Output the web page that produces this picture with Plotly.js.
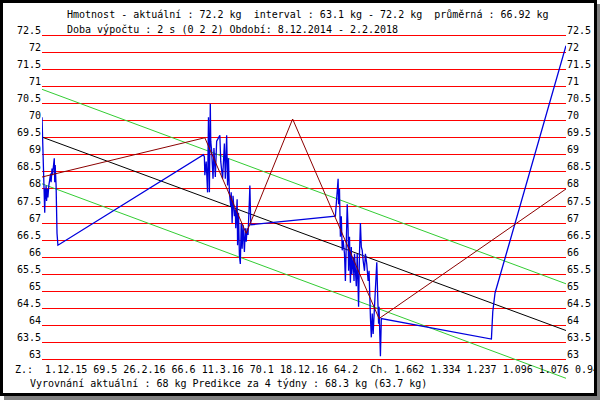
<!DOCTYPE html>
<html>
<head>
<meta charset="utf-8">
<script src="https://cdn.plot.ly/plotly-3.0.1.min.js"></script>
<style>
html,body{margin:0;padding:0;background:#fff;overflow:hidden;}
#wrap{position:relative;width:600px;height:400px;}
#chart{position:absolute;left:0;top:0;width:600px;height:400px;}
#frame{position:absolute;left:0;top:0;width:597px;height:396px;box-sizing:border-box;border:3px solid #000;box-shadow:4px 4px 0 #808080;pointer-events:none;}
</style>
</head>
<body>
<div id="wrap"><div id="chart"></div><div id="frame"></div></div>
<script>
// Weight measurements (date, kg)
const weightDates = [
 '2014-12-08','2014-12-10','2014-12-12','2014-12-14','2014-12-15','2014-12-16','2014-12-17','2014-12-18',
 '2014-12-20','2014-12-21','2014-12-23','2014-12-25','2014-12-27','2014-12-28','2014-12-30','2014-12-31',
 '2015-01-02','2015-01-04','2015-01-05','2015-01-06','2015-01-08','2015-01-09','2015-01-10','2015-01-12',
 '2015-11-28','2015-11-30','2015-12-01','2015-12-04','2015-12-07','2015-12-09','2015-12-11','2015-12-13',
 '2015-12-14','2015-12-16','2015-12-19','2015-12-21','2015-12-24','2015-12-27','2015-12-31','2016-01-03',
 '2016-01-05','2016-01-09','2016-01-13','2016-01-15','2016-01-18','2016-01-20','2016-01-22','2016-01-24',
 '2016-01-27','2016-01-28','2016-01-30','2016-02-01','2016-02-04','2016-02-06','2016-02-07','2016-02-10',
 '2016-02-11','2016-02-13','2016-02-15','2016-02-17','2016-02-19','2016-02-21','2016-02-23','2016-02-26',
 '2016-02-28','2016-03-01','2016-03-03','2016-03-05','2016-03-08','2016-03-09','2016-03-11','2016-06-27',
 '2016-09-13','2016-09-19','2016-09-20','2016-09-22','2016-09-24','2016-09-26','2016-09-28','2016-09-30',
 '2016-10-03','2016-10-05','2016-10-07','2016-10-09','2016-10-11','2016-10-12','2016-10-14','2016-10-16',
 '2016-10-18','2016-10-19','2016-10-22','2016-10-24','2016-10-25','2016-10-29','2016-10-31','2016-11-02',
 '2016-11-03','2016-11-05','2016-11-07','2016-11-09','2016-11-11','2016-11-13','2016-11-16','2016-11-18',
 '2016-11-21','2016-11-24','2016-11-26','2016-11-29','2016-12-01','2016-12-03','2016-12-05','2016-12-08',
 '2016-12-10','2016-12-13','2016-12-15','2016-12-17','2016-12-18','2016-12-20','2016-12-21','2016-12-23',
 '2017-08-22','2017-08-25','2017-08-30','2018-02-02'
];
const weightKg = [
 70.1,69.0,68.2,67.3,68.0,67.7,68.1,67.65,
 68.0,67.75,68.1,68.3,68.45,68.2,68.6,68.4,
 68.7,68.9,68.2,68.7,68.1,67.3,66.7,66.35,
 69.0,68.94,68.4,68.8,67.9,70.1,67.9,70.5,
 69.4,69.1,68.3,69.2,68.35,69.4,69.5,69.57,
 68.8,68.3,69.33,68.3,69.57,68.1,68.9,67.87,
 67.5,67.9,67.0,67.8,67.2,67.4,66.85,67.7,
 66.35,67.3,66.05,65.8,67.0,66.25,66.95,66.15,
 66.85,66.45,66.85,66.65,67.7,68.1,66.95,67.1,
 67.2,68.3,67.55,68.0,66.6,67.2,66.2,66.5,
 66.1,65.3,66.6,67.55,66.8,65.6,66.6,65.25,
 66.3,65.5,66.0,65.3,66.1,65.15,66.1,65.4,
 64.55,66.1,67.0,66.3,66.2,65.9,65.6,66.1,
 65.8,65.3,65.6,64.25,63.65,64.35,63.75,64.55,
 65.15,65.85,64.85,64.05,64.55,63.65,63.1,64.2,
 63.6,64.4,64.95,72.2
];

// Zig-zag turning points
const zigDates = ['2014-12-08','2015-12-01','2016-03-01','2016-06-11','2016-12-18','2018-02-02'];
const zigKg = [68.35, 69.5, 66.7, 70.05, 64.2, 68.0];

// Regression line and its band
const regDates = ['2014-12-08','2018-02-02'];
const regMid = [69.52, 63.85];
const regUpper = [70.92, 65.22];
const regLower = [68.15, 62.45];

// Y tick labels
const yTickVals = [63,63.5,64,64.5,65,65.5,66,66.5,67,67.5,68,68.5,69,69.5,70,70.5,71,71.5,72,72.5];
const yTickText = ['63','63.5','64','64.5','65','65.5','66','66.5','67','67.5','68','68.5','69','69.5','70','70.5','71','71.5','72','72.5'];

const headLine1 = 'Hmotnost - aktuální : 72.2 kg\u00a0\u00a0interval : 63.1 kg - 72.2 kg\u00a0\u00a0průměrná : 66.92 kg';
const headLine2 = 'Doba výpočtu : 2 s (0 2 2) Období: 8.12.2014 - 2.2.2018';
const footLine1 = 'Z.:\u00a0\u00a01.12.15 69.5 26.2.16 66.6 11.3.16 70.1 18.12.16 64.2\u00a0\u00a0Ch. 1.662 1.334 1.237 1.096 1.076 0.944';
const footLine2 = 'Vyrovnání aktuální : 68 kg Predikce za 4 týdny : 68.3 kg (63.7 kg)';

const FONT = 'DejaVu Sans Mono, monospace';

const traces = [
  {x: regDates, y: regUpper, mode:'lines', line:{color:'#33cc33', width:1}, xaxis:'x', yaxis:'y', hoverinfo:'skip'},
  {x: regDates, y: regLower, mode:'lines', line:{color:'#33cc33', width:1}, xaxis:'x', yaxis:'y', hoverinfo:'skip'},
  {x: regDates, y: regMid, mode:'lines', line:{color:'#000000', width:1}, xaxis:'x', yaxis:'y', hoverinfo:'skip'},
  {x: weightDates, y: weightKg, mode:'lines', line:{color:'#0000dd', width:1.3}, xaxis:'x', yaxis:'y2'},
  {x: zigDates, y: zigKg, mode:'lines', line:{color:'#8b0000', width:1}, xaxis:'x', yaxis:'y2'}
];

const L=42, R=34, T=32, B=20, W=600, H=400;
const px = v => (v - L) / (W - L - R);
const py = v => (H - B - v) / (H - T - B);

function ann(text, x, y){
  return {text, xref:'paper', yref:'paper', x:px(x), y:py(y), xanchor:'left', yanchor:'middle',
          showarrow:false, font:{family:FONT, size:10, color:'#000'}, borderpad:0};
}

const yCommon = {
  range:[62.4, 72.6], tickmode:'array', tickvals:yTickVals, ticktext:yTickText,
  ticks:'', zeroline:false, showline:false, fixedrange:true,
  tickfont:{family:FONT, size:10, color:'#000'}, ticklabelshift:-5
};

const layout = {
  width:W, height:H, margin:{l:L, r:R, t:T, b:B, pad:0},
  paper_bgcolor:'#fff', plot_bgcolor:'#fff', showlegend:false,
  xaxis:{type:'date', range:['2014-12-08','2018-02-02'], showgrid:false, zeroline:false,
         showticklabels:false, ticks:'', showline:false},
  yaxis:Object.assign({}, yCommon, {side:'left', showgrid:true, gridcolor:'#ff0000', gridwidth:1}),
  yaxis2:Object.assign({}, yCommon, {side:'right', overlaying:'y', showgrid:false}),
  annotations:[
    ann(headLine1, 66, 14),
    ann(headLine2, 66, 30),
    ann(footLine1, 14, 369),
    ann(footLine2, 29, 383)
  ]
};

Plotly.newPlot('chart', traces, layout, {displayModeBar:false, staticPlot:true});
</script>
</body>
</html>
